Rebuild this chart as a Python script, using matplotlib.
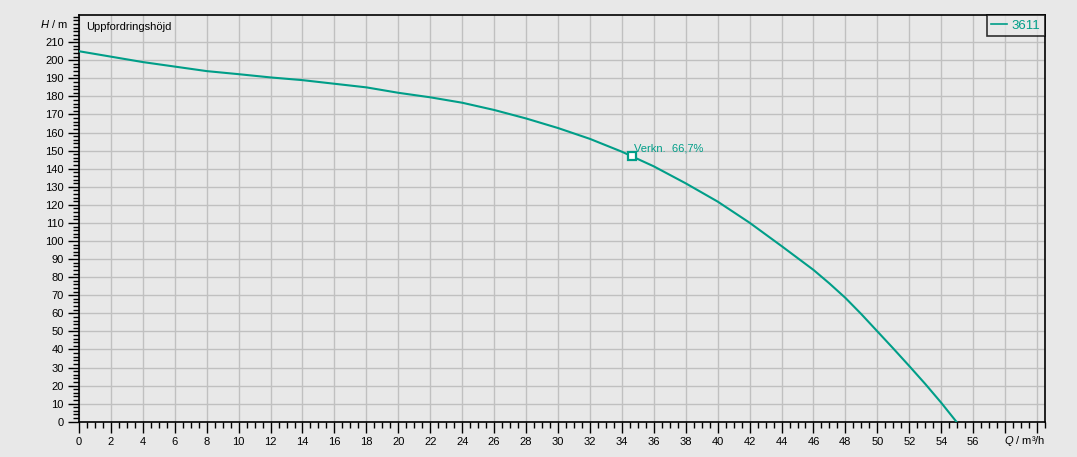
import matplotlib
matplotlib.use("Agg")
import matplotlib.pyplot as plt
from matplotlib.ticker import MultipleLocator, FixedLocator

# pump curve 3611
Q = [0, 2, 4, 6, 8, 10, 12, 14, 16, 18, 20, 22, 24, 26, 28, 30, 32, 34, 36,
     38, 40, 42, 44, 46, 47, 48, 49, 50, 51, 52, 53, 54, 54.95]
H = [205, 202, 199, 196.5, 194, 192.3, 190.5, 189, 187, 185, 182, 179.5, 176.5,
     172.5, 167.8, 162.5, 156.5, 149.4, 141.3, 131.9, 121.8, 110.1, 97.2, 84,
     76.5, 68.5, 59.5, 50, 40.5, 30.8, 20.9, 10.5, 0]
DUTY_Q = 34.65
DUTY_H = 146.8
DUTY_LABEL = "Verkn.  66,7%"
SERIES = "3611"
X_TICKS = list(range(0, 61, 2))
X_LABELS = [str(v) if v <= 56 else "" for v in X_TICKS]
Y_TICKS = list(range(0, 211, 10))

BG = "#e8e8e8"
TEAL = "#009e88"
GRID = "#c0c0c0"

plt.rcParams["font.family"] = ["Liberation Sans", "DejaVu Sans"]
plt.rcParams["mathtext.fontset"] = "custom"
plt.rcParams["mathtext.it"] = "Liberation Sans:italic"
plt.rcParams["mathtext.rm"] = "Liberation Sans"

fig = plt.figure(figsize=(10.77, 4.57), dpi=100, facecolor=BG)
ax = fig.add_axes([0.0733, 0.0772, 0.8970, 0.8906], facecolor=BG)

ax.plot(Q, H, color=TEAL, linewidth=1.5, label=SERIES, zorder=3)
ax.plot([DUTY_Q], [DUTY_H], marker="s", markersize=6, markerfacecolor="white",
        markeredgecolor=TEAL, markeredgewidth=1.6, zorder=4)
ax.annotate(DUTY_LABEL, (DUTY_Q, DUTY_H), xytext=(2, 8), textcoords="offset pixels",
            color=TEAL, fontsize=8, va="center", ha="left")

ax.set_xlim(0, 60.5)
ax.set_ylim(0, 225.2)
ax.xaxis.set_major_locator(FixedLocator(X_TICKS))
ax.set_xticklabels(X_LABELS)
ax.xaxis.set_minor_locator(MultipleLocator(0.5))
ax.yaxis.set_major_locator(FixedLocator(Y_TICKS))
ax.yaxis.set_minor_locator(MultipleLocator(2))

ax.tick_params(which="major", direction="out", length=8, width=1, color="black",
               labelsize=8, pad=3)
ax.tick_params(which="minor", direction="out", length=4, width=1, color="black")
ax.grid(True, which="major", color=GRID, linewidth=1, zorder=0)
ax.set_axisbelow(True)
for s in ax.spines.values():
    s.set_color("black")
    s.set_linewidth(1.2)

# axis names sit where the last tick labels would be
ax.annotate(r"$H$ / m", (0, 220), xycoords=("axes fraction", "data"),
            xytext=(-11, 0), textcoords="offset pixels",
            ha="right", va="center", fontsize=8)
ax.annotate(r"$Q$ / m³/h", (1, 0), xycoords="axes fraction",
            xytext=(0, -19), textcoords="offset pixels",
            ha="right", va="center", fontsize=8)
ax.annotate("Uppfordringshöjd", (0, 1), xycoords="axes fraction",
            xytext=(7, -12), textcoords="offset pixels",
            ha="left", va="center", fontsize=8)

leg = ax.legend(loc="upper right", borderaxespad=0, handlelength=1.2,
                handletextpad=0.35, borderpad=0.35, fontsize=9.5, fancybox=False,
                frameon=True, labelcolor=TEAL)
leg.get_frame().set_edgecolor("black")
leg.get_frame().set_facecolor(BG)
leg.get_frame().set_linewidth(1.2)
for line in leg.get_lines():
    line.set_linewidth(1.2)

fig.savefig("out.png", dpi=100, facecolor=BG)
